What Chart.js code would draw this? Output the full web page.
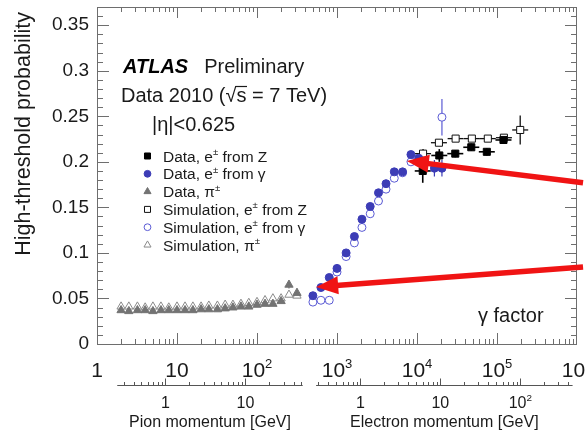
<!DOCTYPE html>
<html>
<head>
<meta charset="utf-8">
<script src="https://cdn.jsdelivr.net/npm/chart.js@4.4.0/dist/chart.umd.min.js"></script>
<style>
  html, body { margin: 0; padding: 0; background: #fff; }
  canvas { display: block; }
</style>
</head>
<body>
<canvas id="trt" width="585" height="434"></canvas>
<script>
// ---- Data: Lorentz factor (gamma) and high-threshold probability ----

// Pions
const pionGamma   = [2.0, 2.5, 3.2, 4.0, 5.0, 6.3, 7.9, 10, 12.6, 15.8, 20, 25, 32, 40, 50, 63, 79, 100, 126, 158, 200, 251, 316];
const pionData    = [0.037, 0.036, 0.037, 0.037, 0.036, 0.037, 0.037, 0.037, 0.037, 0.037, 0.038, 0.038, 0.038, 0.039, 0.040, 0.041, 0.041, 0.043, 0.044, 0.044, 0.047, 0.065, 0.056];
const pionDataErr = [0, 0, 0, 0, 0, 0, 0, 0, 0, 0, 0, 0, 0, 0, 0, 0, 0, 0, 0, 0, 0.002, 0.004, 0.005];
const pionSim     = [0.041, 0.041, 0.041, 0.040, 0.041, 0.041, 0.040, 0.041, 0.041, 0.041, 0.041, 0.042, 0.042, 0.043, 0.043, 0.044, 0.045, 0.046, 0.048, 0.050, 0.050, 0.054, 0.053];

// Electrons from photon conversions
const convGamma      = [500, 630, 800, 1000, 1300, 1650, 2050, 2600, 3300, 4100, 5200, 6600, 8400, 10500, 16500, 20500];
const convData       = [0.053, 0.062, 0.073, 0.083, 0.100, 0.118, 0.137, 0.151, 0.166, 0.176, 0.189, 0.189, 0.208, 0.204, 0.193, 0.193];
const convDataErr    = [0, 0, 0, 0, 0, 0, 0, 0, 0, 0, 0, 0, 0, 0.003, 0.009, 0.009];
const convSimGamma   = [500, 630, 800, 1000, 1300, 1650, 2050, 2600, 3300, 4100, 5200, 6600, 8400, 20500];
const convSim        = [0.046, 0.048, 0.048, 0.079, 0.096, 0.111, 0.128, 0.143, 0.157, 0.170, 0.182, 0.188, 0.200, 0.249];
const convSimErr     = [0, 0, 0, 0, 0, 0, 0, 0, 0, 0, 0, 0, 0, 0.020];

// Electrons from Z decays
const zDataGamma = [11800, 19000, 30100, 47700, 74600, 120500];
const zData      = [0.190, 0.207, 0.209, 0.216, 0.211, 0.224];
const zDataErr   = [0.013, 0.007, 0.004, 0.004, 0.004, 0.003];
const zSimGamma  = [11900, 18800, 30400, 48500, 76800, 122000, 195000];
const zSim       = [0.209, 0.221, 0.2255, 0.2255, 0.2255, 0.2265, 0.235];
const zSimErr    = [0.005, 0.003, 0.002, 0.002, 0.002, 0.003, 0.016];
const zBinHalfWidthDecades = 0.1;

// Axis ticks
const gammaDecades    = [1, 10, 100, 1e3, 1e4, 1e5, 1e6];
const gammaTickLabels = ['1', '10', '10^2', '10^3', '10^4', '10^5', '10^6'];
const yTicks          = [0, 0.05, 0.1, 0.15, 0.2, 0.25, 0.3, 0.35];
const yTickLabels     = ['0', '0.05', '0.1', '0.15', '0.2', '0.25', '0.3', '0.35'];

// Momentum axes (p = gamma * m)
const PION_MASS = 0.13957;     // GeV
const ELECTRON_MASS = 0.000511; // GeV
const pionMomRange     = [0.25, 52];
const pionMomTicks     = [1, 10];
const pionMomLabels    = ['1', '10'];
const electronMomRange  = [0.28, 450];
const electronMomTicks  = [1, 10, 100];
const electronMomLabels = ['1', '10', '10^2'];

// Arrows (tail -> tip, in gamma / probability units)
const arrowTails = [{x: 1.19e6, y: 0.177}, {x: 1.19e6, y: 0.0846}];
const arrowTips  = [{x: 7460, y: 0.201}, {x: 549, y: 0.0626}];

const FONT = '"Liberation Sans", Arial, Helvetica, sans-serif';
const BLUE = '#3c3cb6';
const BLUE_OPEN = '#5a5ad4';
const GREY = '#737373';
const AXIS = '#6e6e6e';

const pts = (xs, ys) => xs.map((x, i) => ({x: x, y: ys[i]}));

// text with ^x or ^{xx} superscripts
function parseRich(str) {
  const parts = [];
  const re = /\^\{([^}]*)\}|\^(.)/g;
  let last = 0, m;
  while ((m = re.exec(str))) {
    if (m.index > last) parts.push({t: str.slice(last, m.index), sup: false});
    parts.push({t: m[1] !== undefined ? m[1] : m[2], sup: true});
    last = re.lastIndex;
  }
  if (last < str.length) parts.push({t: str.slice(last), sup: false});
  return parts;
}
function drawRich(ctx, str, x, y, size, align, style, color) {
  const parts = parseRich(str);
  const supSize = size * 0.62;
  let w = 0;
  parts.forEach(p => {
    ctx.font = `${style || ''} ${p.sup ? supSize : size}px ${FONT}`;
    p.w = ctx.measureText(p.t).width;
    w += p.w;
  });
  let cx = align === 'center' ? x - w / 2 : align === 'right' ? x - w : x;
  ctx.textAlign = 'left';
  ctx.textBaseline = 'alphabetic';
  ctx.fillStyle = color || '#1a1a1a';
  parts.forEach(p => {
    ctx.font = `${style || ''} ${p.sup ? supSize : size}px ${FONT}`;
    ctx.fillText(p.t, cx, p.sup ? y - size * 0.42 : y);
    cx += p.w;
  });
  return w;
}

function drawArrow(ctx, x1, y1, x2, y2) {
  const ang = Math.atan2(y2 - y1, x2 - x1);
  const headLen = 22, headHalf = 9;
  const c = Math.cos(ang), s = Math.sin(ang);
  const bx = x2 - c * headLen, by = y2 - s * headLen;
  ctx.save();
  ctx.strokeStyle = '#f01414';
  ctx.fillStyle = '#f01414';
  ctx.lineWidth = 5.5;
  ctx.beginPath(); ctx.moveTo(x1, y1); ctx.lineTo(bx + c * 2, by + s * 2); ctx.stroke();
  ctx.beginPath();
  ctx.moveTo(x2, y2);
  ctx.lineTo(bx + s * headHalf, by - c * headHalf);
  ctx.lineTo(bx - s * headHalf, by + c * headHalf);
  ctx.closePath(); ctx.fill();
  ctx.restore();
}

// error bars under the markers
const errorBars = {
  id: 'errorBars',
  beforeDatasetsDraw(chart) {
    const ctx = chart.ctx, xs = chart.scales.x, ys = chart.scales.y;
    ctx.save();
    chart.data.datasets.forEach(ds => {
      ctx.strokeStyle = ds.borderColor;
      ctx.lineWidth = ds.errWidth || 1.2;
      ds.data.forEach((p, i) => {
        const px = xs.getPixelForValue(p.x);
        const e = ds.yErr ? ds.yErr[i] : 0;
        if (e > 0) {
          ctx.beginPath();
          ctx.moveTo(px, ys.getPixelForValue(p.y - e));
          ctx.lineTo(px, ys.getPixelForValue(p.y + e));
          ctx.stroke();
        }
        if (ds.xHalfDecades) {
          const f = Math.pow(10, ds.xHalfDecades);
          const py = ys.getPixelForValue(p.y);
          ctx.beginPath();
          ctx.moveTo(xs.getPixelForValue(p.x / f), py);
          ctx.lineTo(xs.getPixelForValue(p.x * f), py);
          ctx.stroke();
        }
      });
    });
    ctx.restore();
  }
};

// frame, inward ticks, tick labels, momentum axes, annotations and legend
const decorations = {
  id: 'decorations',
  afterDraw(chart) {
    const ctx = chart.ctx, xs = chart.scales.x, ys = chart.scales.y;
    const a = chart.chartArea;
    ctx.save();

    // frame
    ctx.strokeStyle = AXIS;
    ctx.lineWidth = 1;
    ctx.strokeRect(Math.round(a.left) + 0.5, Math.round(a.top) + 0.5, Math.round(a.right - a.left) - 1, Math.round(a.bottom - a.top));

    // gamma axis ticks (bottom and top)
    ctx.beginPath();
    for (let d = 0; d < gammaDecades.length - 1; d++) {
      for (let k = 1; k <= 9; k++) {
        const v = gammaDecades[d] * k;
        const px = Math.round(xs.getPixelForValue(v)) + 0.5;
        const len = k === 1 ? 11 : 5;
        ctx.moveTo(px, a.bottom); ctx.lineTo(px, a.bottom - len);
        ctx.moveTo(px, a.top); ctx.lineTo(px, a.top + len);
      }
    }
    // probability axis ticks (left and right)
    for (let i = 0; i <= 37; i++) {
      const v = i / 100;
      const py = Math.round(ys.getPixelForValue(v)) + 0.5;
      const len = i % 5 === 0 ? 12 : 6;
      ctx.moveTo(a.left, py); ctx.lineTo(a.left + len, py);
      ctx.moveTo(a.right, py); ctx.lineTo(a.right - len, py);
    }
    ctx.stroke();

    // gamma tick labels
    gammaDecades.forEach((v, i) => {
      drawRich(ctx, gammaTickLabels[i], xs.getPixelForValue(v), 377, 21, 'center', '', '#1a1a1a');
    });

    // momentum axes
    const momAxis = (mass, range, ticks, labels, title) => {
      const yLine = 385.5;
      const x0 = xs.getPixelForValue(range[0] / mass);
      const x1 = xs.getPixelForValue(range[1] / mass);
      ctx.strokeStyle = '#555';
      ctx.lineWidth = 1;
      ctx.beginPath();
      ctx.moveTo(x0, yLine); ctx.lineTo(x1, yLine);
      for (let dec = 0.1; dec < range[1]; dec *= 10) {
        for (let k = 1; k <= 9; k++) {
          const p = dec * k;
          if (p < range[0] || p > range[1]) continue;
          const px = Math.round(xs.getPixelForValue(p / mass)) + 0.5;
          const major = ticks.some(t => Math.abs(t - p) < 1e-9);
          ctx.moveTo(px, yLine); ctx.lineTo(px, yLine - (major ? 7 : 3.5));
        }
      }
      ctx.stroke();
      ticks.forEach((t, i) => {
        drawRich(ctx, labels[i], xs.getPixelForValue(t / mass), 407.5, 16, 'center', '', '#1a1a1a');
      });
      drawRich(ctx, title, (x0 + x1) / 2, 427, 16, 'center', '', '#1a1a1a');
    };
    momAxis(PION_MASS, pionMomRange, pionMomTicks, pionMomLabels, 'Pion momentum [GeV]');
    momAxis(ELECTRON_MASS, electronMomRange, electronMomTicks, electronMomLabels, 'Electron momentum [GeV]');

    // y axis title
    ctx.save();
    ctx.translate(30, a.top + 5);
    ctx.rotate(-Math.PI / 2);
    ctx.font = `21.5px ${FONT}`;
    ctx.fillStyle = '#1a1a1a';
    ctx.textAlign = 'right';
    ctx.textBaseline = 'alphabetic';
    ctx.fillText('High-threshold probability', 0, 0);
    ctx.restore();

    // header text
    const w1 = drawRich(ctx, 'ATLAS', 123, 73, 20, 'left', 'italic bold', '#000');
    drawRich(ctx, 'Preliminary', 123 + w1 + 16, 73, 20, 'left', '', '#1a1a1a');
    let cx = 121;
    cx += drawRich(ctx, 'Data 2010 (', cx, 102, 20, 'left', '', '#1a1a1a');
    cx += drawRich(ctx, '\u221A', cx, 102, 20, 'left', '', '#1a1a1a');
    const sW = drawRich(ctx, 's', cx, 102, 20, 'left', '', '#1a1a1a');
    ctx.strokeStyle = '#1a1a1a'; ctx.lineWidth = 1.2;
    ctx.beginPath(); ctx.moveTo(cx - 1, 86.5); ctx.lineTo(cx + sW + 0.5, 86.5); ctx.stroke();
    cx += sW;
    drawRich(ctx, ' = 7 TeV)', cx, 102, 20, 'left', '', '#1a1a1a');
    drawRich(ctx, '|\u03B7|<0.625', 152, 131, 20, 'left', '', '#1a1a1a');

    // legend
    const legendTexts = ['Data, e^\u00B1 from Z', 'Data, e^\u00B1 from \u03B3', 'Data, \u03C0^\u00B1',
                         'Simulation, e^\u00B1 from Z', 'Simulation, e^\u00B1 from \u03B3', 'Simulation, \u03C0^\u00B1'];
    chart.data.datasets.forEach((ds, i) => {
      const yRow = 156 + i * 17.8;
      ctx.save();
      ctx.fillStyle = ds.backgroundColor;
      ctx.strokeStyle = ds.borderColor;
      ctx.lineWidth = ds.borderWidth;
      Chart.helpers.drawPoint(ctx, {pointStyle: ds.pointStyle, radius: ds.pointRadius * 0.85, rotation: 0, borderWidth: ds.borderWidth}, 147.5, yRow);
      ctx.restore();
      drawRich(ctx, legendTexts[i], 163, yRow + 5.5, 15.5, 'left', '', '#1a1a1a');
    });

    // gamma factor label
    drawRich(ctx, '\u03B3 factor', 478, 322, 20, 'left', '', '#1a1a1a');

    // arrows
    arrowTails.forEach((t, i) => {
      drawArrow(ctx, xs.getPixelForValue(t.x), ys.getPixelForValue(t.y),
                xs.getPixelForValue(arrowTips[i].x), ys.getPixelForValue(arrowTips[i].y));
    });

    ctx.restore();
  }
};

new Chart(document.getElementById('trt'), {
  type: 'scatter',
  data: {
    datasets: [
      { label: 'Data, e\u00B1 from Z', data: pts(zDataGamma, zData), yErr: zDataErr, xHalfDecades: zBinHalfWidthDecades, errWidth: 1.6,
        pointStyle: 'rect', pointRadius: 5, backgroundColor: '#000', borderColor: '#000', borderWidth: 1 },
      { label: 'Data, e\u00B1 from \u03B3', data: pts(convGamma, convData), yErr: convDataErr,
        pointStyle: 'circle', pointRadius: 4, backgroundColor: BLUE, borderColor: BLUE, borderWidth: 1 },
      { label: 'Data, \u03C0\u00B1', data: pts(pionGamma, pionData), yErr: pionDataErr,
        pointStyle: 'triangle', pointRadius: 4.8, backgroundColor: GREY, borderColor: GREY, borderWidth: 1 },
      { label: 'Simulation, e\u00B1 from Z', data: pts(zSimGamma, zSim), yErr: zSimErr, xHalfDecades: zBinHalfWidthDecades, errWidth: 1.3,
        pointStyle: 'rect', pointRadius: 5, backgroundColor: '#fff', borderColor: '#111', borderWidth: 1 },
      { label: 'Simulation, e\u00B1 from \u03B3', data: pts(convSimGamma, convSim), yErr: convSimErr,
        pointStyle: 'circle', pointRadius: 4, backgroundColor: '#fff', borderColor: BLUE_OPEN, borderWidth: 1 },
      { label: 'Simulation, \u03C0\u00B1', data: pts(pionGamma, pionSim),
        pointStyle: 'triangle', pointRadius: 4.8, backgroundColor: '#fff', borderColor: '#8a8a8a', borderWidth: 1 }
    ]
  },
  options: {
    responsive: false,
    animation: false,
    events: [],
    layout: { padding: { top: 7, right: 8, left: 0, bottom: 0 } },
    plugins: { legend: { display: false }, tooltip: { enabled: false } },
    scales: {
      x: {
        type: 'logarithmic', min: 1, max: 1e6,
        grid: { display: false, drawTicks: false },
        border: { display: false },
        ticks: { display: false },
        afterFit: s => { s.height = 90; s.paddingLeft = 0; s.paddingRight = 0; }
      },
      y: {
        type: 'linear', min: 0, max: 0.37,
        grid: { display: false, drawTicks: false },
        border: { display: false },
        ticks: {
          font: { family: FONT, size: 19 }, color: '#1a1a1a', padding: 8,
          callback: (v, i) => yTickLabels[i]
        },
        afterBuildTicks: s => { s.ticks = yTicks.map(v => ({ value: v })); },
        afterFit: s => { s.width = 97; s.paddingTop = 0; s.paddingBottom = 0; }
      }
    }
  },
  plugins: [errorBars, decorations]
});
</script>
</body>
</html>
